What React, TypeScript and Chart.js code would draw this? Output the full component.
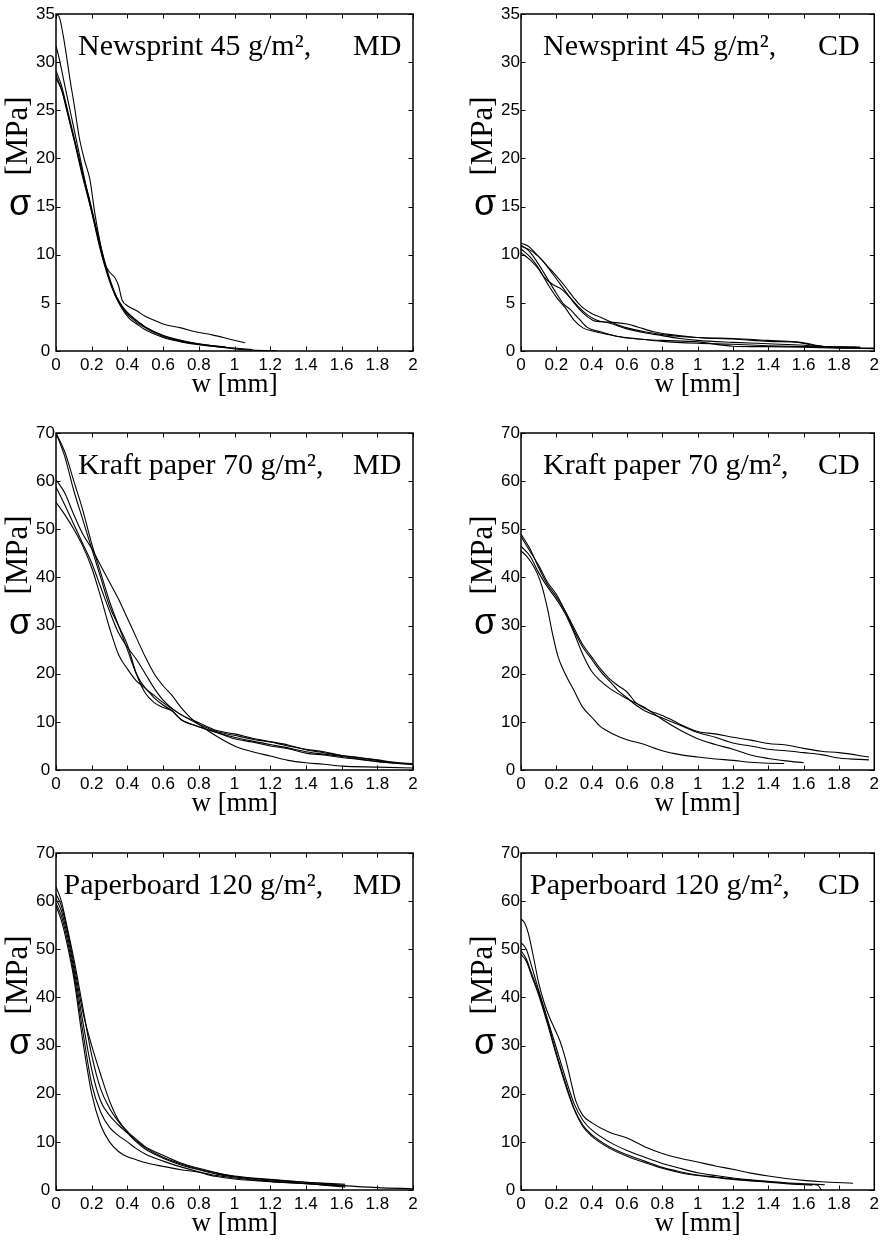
import React, { useEffect, useRef } from 'react';
import { Chart, registerables } from 'chart.js';

Chart.register(...registerables);

// ---------- tick values & labels ----------
const W_TICKS = [0, 0.2, 0.4, 0.6, 0.8, 1, 1.2, 1.4, 1.6, 1.8, 2];
const W_TICK_LABELS = ['0', '0.2', '0.4', '0.6', '0.8', '1', '1.2', '1.4', '1.6', '1.8', '2'];
const SIGMA_TICKS_NEWSPRINT = [0, 5, 10, 15, 20, 25, 30, 35];
const SIGMA_TICKS_OTHER = [0, 10, 20, 30, 40, 50, 60, 70];

// ---------- texts ----------
const X_TITLE = 'w [mm]';
const Y_SYMBOL = 'σ';
const Y_UNIT = '[MPa]';
const MATERIALS = ['Newsprint 45 g/m²,', 'Kraft paper 70 g/m²,', 'Paperboard 120 g/m²,'];
const DIRECTIONS = ['MD', 'CD'];

// ---------- curves: [w (mm), sigma (MPa)] ----------
const NEWSPRINT_MD = [
  [[0, 35], [0.02, 34.6], [0.04, 32.8], [0.06, 30.5], [0.08, 28], [0.1, 25.8], [0.13, 22.2], [0.16, 19.8], [0.19, 17.8], [0.22, 14], [0.25, 11], [0.28, 8.6], [0.32, 6.4], [0.36, 4.9], [0.4, 4.0], [0.45, 3.2], [0.5, 2.5], [0.6, 1.6], [0.7, 1.1], [0.8, 0.75], [0.9, 0.5], [0.95, 0.4]],
  [[0, 31.7], [0.02, 30.2], [0.05, 27.5], [0.09, 24], [0.13, 20.5], [0.17, 17], [0.21, 13.8], [0.24, 11.3], [0.27, 9.2], [0.3, 8.2], [0.33, 7.6], [0.35, 6.8], [0.37, 5.3], [0.4, 4.7], [0.45, 4.2], [0.5, 3.6], [0.55, 3.2], [0.6, 2.8], [0.7, 2.4], [0.78, 2.0], [0.88, 1.65], [0.98, 1.2], [1.06, 0.85]],
  [[0, 29.1], [0.03, 27.6], [0.07, 24.6], [0.11, 21.5], [0.15, 18.4], [0.19, 15.6], [0.22, 13.2], [0.26, 10.2], [0.3, 7.6], [0.34, 5.6], [0.38, 4.4], [0.42, 3.6], [0.5, 2.5], [0.6, 1.6], [0.7, 1.05], [0.8, 0.7], [0.9, 0.45], [1.0, 0.22], [1.1, 0.09], [1.24, 0.02]],
  [[0, 28.7], [0.04, 26.6], [0.08, 23.6], [0.12, 20.6], [0.17, 16.8], [0.21, 13.6], [0.25, 10.4], [0.29, 7.8], [0.33, 5.8], [0.37, 4.4], [0.41, 3.4], [0.46, 2.7], [0.5, 2.2], [0.6, 1.4], [0.7, 0.95], [0.8, 0.65], [0.9, 0.45], [1.0, 0.3], [1.1, 0.15]],
  [[0, 28.3], [0.03, 27.2], [0.06, 25], [0.1, 22], [0.15, 18], [0.2, 14.5], [0.24, 11.5], [0.28, 8.6], [0.32, 6.3], [0.36, 4.8], [0.4, 3.8], [0.45, 3.0], [0.5, 2.4], [0.6, 1.5], [0.7, 1.0], [0.8, 0.72], [0.95, 0.42]],
];

const NEWSPRINT_CD = [
  [[0, 11.2], [0.04, 10.9], [0.08, 10.2], [0.13, 9.2], [0.18, 8.0], [0.24, 6.5], [0.3, 5.0], [0.36, 3.8], [0.42, 3.1], [0.5, 3.0], [0.6, 2.8], [0.66, 2.5], [0.75, 2.0], [0.85, 1.7], [1.0, 1.4], [1.2, 1.3], [1.4, 1.1], [1.55, 0.95], [1.65, 0.6], [1.75, 0.45], [1.92, 0.4]],
  [[0, 10.9], [0.05, 10.5], [0.1, 9.8], [0.15, 8.8], [0.2, 7.8], [0.25, 6.7], [0.3, 5.5], [0.35, 4.5], [0.4, 3.9], [0.45, 3.5], [0.5, 3.1], [0.55, 2.7], [0.6, 2.4], [0.7, 2.0], [0.8, 1.7], [0.9, 1.5], [1.0, 1.4], [1.1, 1.3], [1.2, 1.25], [1.4, 1.0], [1.58, 0.9], [1.7, 0.5], [1.8, 0.4], [1.92, 0.35]],
  [[0, 10.6], [0.05, 9.8], [0.1, 8.6], [0.13, 7.7], [0.18, 6.9], [0.23, 6.4], [0.28, 5.5], [0.33, 4.5], [0.38, 3.7], [0.43, 3.2], [0.5, 2.9], [0.6, 2.3], [0.7, 1.9], [0.8, 1.6], [0.9, 1.3], [1.0, 1.1], [1.2, 0.9], [1.4, 0.75], [1.6, 0.6], [1.8, 0.35], [2.0, 0.3]],
  [[0, 10.2], [0.05, 9.5], [0.1, 8.5], [0.15, 7.0], [0.2, 5.6], [0.25, 4.5], [0.3, 3.2], [0.35, 2.4], [0.4, 2.1], [0.5, 1.7], [0.6, 1.35], [0.7, 1.2], [0.8, 1.1], [1.0, 0.95], [1.2, 0.5], [1.4, 0.45], [1.6, 0.4], [1.8, 0.3], [2.0, 0.25]],
  [[0, 11.0], [0.05, 10.3], [0.1, 9.0], [0.15, 7.5], [0.2, 6.0], [0.24, 4.9], [0.28, 4.3], [0.33, 3.3], [0.38, 2.4], [0.45, 2.0], [0.55, 1.5], [0.65, 1.3], [0.8, 1.0], [1.0, 0.8], [1.2, 0.7], [1.4, 0.55], [1.6, 0.45], [1.9, 0.4]],
];

const KRAFT_MD = [
  [[0, 70], [0.05, 66], [0.1, 60], [0.15, 54], [0.2, 47], [0.25, 41], [0.3, 35], [0.35, 30], [0.4, 25], [0.45, 20], [0.5, 17], [0.55, 15.5], [0.6, 14], [0.7, 11.5], [0.8, 9.5], [0.9, 8.0], [1.0, 7.2], [1.1, 6.4], [1.2, 5.8], [1.3, 5.0], [1.4, 4.3], [1.5, 3.8], [1.6, 3.0], [1.7, 2.5], [1.8, 2.0], [1.9, 1.5], [2.0, 1.2]],
  [[0, 70], [0.05, 65], [0.1, 58], [0.15, 52], [0.2, 46], [0.25, 40], [0.3, 34], [0.35, 30], [0.4, 26], [0.45, 20], [0.5, 16], [0.55, 14], [0.6, 13], [0.65, 12.3], [0.7, 10.5], [0.8, 9], [0.9, 7.8], [1.0, 6.8], [1.1, 6.0], [1.2, 5.3], [1.3, 4.6], [1.4, 3.8], [1.5, 3.3], [1.6, 2.8], [1.7, 2.3], [1.8, 1.8], [1.9, 1.4], [2.0, 1.1]],
  [[0, 60.3], [0.05, 57.5], [0.1, 53], [0.15, 49], [0.2, 46], [0.25, 42.5], [0.3, 39], [0.35, 35.5], [0.4, 31.5], [0.45, 27.5], [0.5, 23.5], [0.55, 20], [0.6, 17.5], [0.65, 15.5], [0.7, 13], [0.75, 11], [0.8, 9.5], [0.9, 7.0], [1.0, 5.0], [1.1, 3.8], [1.2, 2.9], [1.3, 2.0], [1.4, 1.5], [1.5, 1.2], [1.6, 0.8], [1.8, 0.6], [2.0, 0.4]],
  [[0, 58.8], [0.05, 55], [0.1, 51], [0.15, 47], [0.2, 43], [0.25, 38], [0.3, 33], [0.35, 28.5], [0.4, 25.5], [0.45, 23], [0.5, 20], [0.55, 17], [0.6, 14.5], [0.65, 12.8], [0.7, 11.5], [0.8, 9.8], [0.9, 8.2], [1.0, 7.5], [1.1, 6.6], [1.2, 5.9], [1.3, 5.2], [1.4, 4.2], [1.5, 3.6], [1.6, 3.0], [1.7, 2.6], [1.8, 2.1], [1.9, 1.6], [2.0, 1.3]],
  [[0, 55.6], [0.05, 53], [0.1, 50], [0.15, 46.5], [0.2, 42], [0.25, 36], [0.3, 29.5], [0.35, 24], [0.4, 21], [0.45, 18.5], [0.5, 17], [0.55, 15], [0.6, 13.5], [0.65, 12.3], [0.7, 10.5], [0.8, 9.0], [0.9, 7.8], [1.0, 6.5], [1.1, 5.8], [1.2, 5.0], [1.3, 4.4], [1.4, 3.5], [1.5, 3.1], [1.6, 2.6], [1.7, 2.2], [1.8, 1.7], [1.9, 1.4]],
];

const KRAFT_CD = [
  [[0, 45.5], [0.03, 44.5], [0.06, 43], [0.09, 41], [0.12, 38], [0.15, 33.5], [0.18, 28], [0.21, 23.5], [0.25, 20], [0.3, 16.5], [0.35, 13], [0.4, 11], [0.45, 9], [0.48, 8.3], [0.52, 7.5], [0.6, 6.3], [0.7, 5.3], [0.8, 4.0], [0.9, 3.2], [1.0, 2.7], [1.1, 2.3], [1.2, 2.0], [1.3, 1.6], [1.4, 1.4], [1.49, 1.35]],
  [[0, 46.5], [0.05, 44.5], [0.1, 41], [0.15, 38], [0.2, 35.5], [0.25, 32.5], [0.3, 28.5], [0.35, 24], [0.4, 20.5], [0.45, 18.5], [0.5, 17], [0.6, 14.8], [0.7, 13], [0.8, 10.5], [0.9, 8.3], [1.0, 6.5], [1.1, 5.3], [1.2, 4.3], [1.3, 3.1], [1.4, 2.4], [1.5, 1.9], [1.6, 1.5]],
  [[0, 49], [0.05, 46], [0.1, 42], [0.15, 38.5], [0.2, 36], [0.25, 33], [0.3, 29.5], [0.35, 26], [0.4, 23.5], [0.45, 21], [0.5, 19], [0.55, 17.5], [0.6, 16.2], [0.65, 14], [0.7, 12.8], [0.8, 11.3], [0.85, 10.5], [0.9, 9.5], [1.0, 8.0], [1.1, 7.5], [1.2, 6.8], [1.3, 6.2], [1.4, 5.5], [1.5, 5.2], [1.6, 4.5], [1.7, 3.9], [1.8, 3.6], [1.97, 2.7]],
  [[0, 48.5], [0.05, 45.5], [0.1, 42.5], [0.15, 39], [0.2, 36.5], [0.25, 33], [0.3, 29], [0.35, 25.5], [0.4, 23], [0.45, 20.5], [0.5, 18.5], [0.55, 16.5], [0.6, 15], [0.65, 13.5], [0.7, 12.3], [0.8, 10.8], [0.9, 9.3], [1.0, 7.8], [1.1, 6.8], [1.2, 5.6], [1.3, 5.0], [1.4, 4.3], [1.5, 4.0], [1.6, 3.6], [1.7, 3.2], [1.8, 2.5], [1.97, 2.1]],
];

const PAPERBOARD_MD = [
  [[0, 63], [0.03, 60], [0.06, 55], [0.1, 48], [0.15, 38], [0.2, 28], [0.25, 21], [0.3, 17], [0.35, 14.2], [0.4, 12], [0.45, 10.2], [0.5, 8.8], [0.6, 6.8], [0.7, 5.4], [0.8, 4.3], [0.9, 3.5], [1.0, 2.8], [1.2, 2.1], [1.4, 1.6], [1.62, 1.2]],
  [[0, 61.5], [0.03, 59], [0.06, 54.5], [0.1, 47], [0.15, 37], [0.2, 30], [0.25, 24], [0.3, 18.5], [0.35, 14.5], [0.4, 12.2], [0.45, 10.5], [0.5, 9.0], [0.6, 7.2], [0.7, 5.6], [0.8, 4.5], [0.9, 3.6], [1.0, 2.9], [1.2, 2.2], [1.4, 1.6], [1.62, 1.0]],
  [[0, 60.5], [0.03, 58], [0.06, 53.5], [0.1, 46], [0.15, 35], [0.2, 25], [0.25, 18.5], [0.3, 15.5], [0.35, 13.5], [0.4, 11.8], [0.45, 10], [0.5, 8.5], [0.6, 6.6], [0.7, 5.2], [0.8, 4.2], [0.9, 3.3], [1.0, 2.7], [1.2, 1.9], [1.4, 1.4], [1.6, 0.9], [1.8, 0.5], [2.0, 0.25]],
  [[0, 59.5], [0.03, 57], [0.06, 52.5], [0.1, 45], [0.15, 33], [0.2, 22], [0.25, 16.2], [0.3, 13], [0.35, 11.3], [0.4, 10], [0.45, 8.6], [0.5, 7.5], [0.6, 6.0], [0.7, 4.8], [0.8, 3.8], [0.9, 3.0], [1.0, 2.5], [1.2, 1.8], [1.4, 1.3], [1.62, 0.8]],
  [[0, 59], [0.03, 56], [0.06, 51.5], [0.1, 44], [0.15, 31], [0.2, 20], [0.25, 13.5], [0.3, 10], [0.35, 8], [0.4, 6.9], [0.45, 6.3], [0.5, 5.7], [0.6, 4.9], [0.7, 4.2], [0.8, 3.7], [0.85, 3.2], [0.9, 2.8], [1.0, 2.3], [1.2, 1.7], [1.4, 1.3], [1.62, 0.6]],
];

const PAPERBOARD_CD = [
  [[0, 56.3], [0.02, 55.5], [0.04, 53.5], [0.07, 48.5], [0.1, 43], [0.13, 39], [0.16, 36], [0.19, 33.5], [0.22, 31], [0.25, 27.5], [0.28, 23], [0.31, 18.5], [0.35, 15.5], [0.4, 14], [0.5, 12], [0.6, 10.8], [0.7, 9.0], [0.8, 7.6], [0.9, 6.6], [1.0, 5.8], [1.1, 5.0], [1.2, 4.3], [1.3, 3.5], [1.4, 2.9], [1.5, 2.4], [1.6, 2.0], [1.7, 1.7], [1.88, 1.4]],
  [[0, 51.4], [0.03, 50], [0.06, 46.5], [0.1, 41.5], [0.15, 35.5], [0.2, 29.5], [0.25, 23.5], [0.3, 18], [0.35, 14.5], [0.4, 12.5], [0.5, 10], [0.6, 8.2], [0.7, 6.8], [0.8, 5.5], [0.9, 4.5], [1.0, 3.6], [1.1, 3.0], [1.2, 2.5], [1.3, 2.1], [1.4, 1.8], [1.5, 1.5], [1.6, 1.3], [1.72, 1.1]],
  [[0, 49.7], [0.03, 48], [0.06, 45], [0.1, 41], [0.15, 35], [0.2, 28.5], [0.25, 22.5], [0.3, 17], [0.35, 13.5], [0.4, 11.5], [0.5, 9.0], [0.6, 7.3], [0.7, 6.0], [0.8, 4.7], [0.9, 3.8], [1.0, 3.1], [1.1, 2.7], [1.2, 2.3], [1.3, 2.0], [1.4, 1.7], [1.5, 1.4], [1.6, 1.2], [1.68, 1.0], [1.7, 0]],
  [[0, 49], [0.03, 47.5], [0.06, 44.5], [0.1, 40.5], [0.15, 34.5], [0.2, 28], [0.25, 22], [0.3, 16.8], [0.35, 13.2], [0.4, 11.2], [0.5, 8.7], [0.6, 7.0], [0.7, 5.7], [0.8, 4.5], [0.9, 3.6], [1.0, 3.0], [1.1, 2.6], [1.2, 2.2], [1.3, 1.9], [1.4, 1.6], [1.5, 1.3], [1.65, 1.0]],
];

// ---------- layout ----------
const COLS = [
  { canvasLeft: 0, width: 441, plotLeft: 56, plotRight: 413 },
  { canvasLeft: 441, width: 442, plotLeft: 521, plotRight: 877 },
];
const ROWS = [
  { canvasTop: 0, height: 415, plotTop: 14 },
  { canvasTop: 415, height: 420, plotTop: 433 },
  { canvasTop: 835, height: 411, plotTop: 853 },
];
const PLOT_H = 337;

const PANELS = [
  { curves: NEWSPRINT_MD, mat: 0, dir: 0, yTicks: SIGMA_TICKS_NEWSPRINT, yMax: 35, col: 0, row: 0, titleDx: 22 },
  { curves: NEWSPRINT_CD, mat: 0, dir: 1, yTicks: SIGMA_TICKS_NEWSPRINT, yMax: 35, col: 1, row: 0, titleDx: 22 },
  { curves: KRAFT_MD, mat: 1, dir: 0, yTicks: SIGMA_TICKS_OTHER, yMax: 70, col: 0, row: 1, titleDx: 22 },
  { curves: KRAFT_CD, mat: 1, dir: 1, yTicks: SIGMA_TICKS_OTHER, yMax: 70, col: 1, row: 1, titleDx: 22 },
  { curves: PAPERBOARD_MD, mat: 2, dir: 0, yTicks: SIGMA_TICKS_OTHER, yMax: 70, col: 0, row: 2, titleDx: 7.5 },
  { curves: PAPERBOARD_CD, mat: 2, dir: 1, yTicks: SIGMA_TICKS_OTHER, yMax: 70, col: 1, row: 2, titleDx: 9 },
];

const SERIF = "'Liberation Serif', 'Times New Roman', serif";
const SANS = "'Liberation Sans', Arial, Helvetica, sans-serif";

const framePlugin = {
  id: 'frame',
  afterDraw(chart: any, _args: any, opts: any) {
    const { ctx, chartArea: a } = chart;
    const xs = chart.scales.x;
    const ys = chart.scales.y;
    ctx.save();
    ctx.strokeStyle = '#000';
    ctx.fillStyle = '#000';
    // inward ticks on all four sides
    const TL = 4.5;
    ctx.lineWidth = 1;
    ctx.beginPath();
    W_TICKS.forEach((v) => {
      const p = Math.round(xs.getPixelForValue(v)) + 0.5;
      ctx.moveTo(p, a.bottom);
      ctx.lineTo(p, a.bottom - TL);
      ctx.moveTo(p, a.top);
      ctx.lineTo(p, a.top + TL);
    });
    (opts.yTicks as number[]).forEach((v) => {
      const p = Math.round(ys.getPixelForValue(v)) + 0.5;
      ctx.moveTo(a.left, p);
      ctx.lineTo(a.left + TL, p);
      ctx.moveTo(a.right, p);
      ctx.lineTo(a.right - TL, p);
    });
    ctx.stroke();
    // frame
    ctx.lineWidth = 1.5;
    ctx.strokeRect(a.left, a.top, a.right - a.left, a.bottom - a.top);

    // panel title inside the plot
    ctx.font = `30px ${SERIF}`;
    ctx.textAlign = 'left';
    ctx.textBaseline = 'alphabetic';
    ctx.fillText(opts.title, a.left + opts.titleDx, a.top + 40.5);
    ctx.fillText(opts.dir, a.left + 297, a.top + 40.5);

    // y-axis title: sigma + [MPa]
    ctx.font = `36px ${SANS}`;
    ctx.textAlign = 'center';
    ctx.fillText(Y_SYMBOL, a.left - 36, a.top + 201);
    ctx.save();
    ctx.translate(a.left - 29, a.top + 122);
    ctx.rotate(-Math.PI / 2);
    ctx.font = `31px ${SERIF}`;
    ctx.textAlign = 'center';
    ctx.fillText(Y_UNIT, 0, 0);
    ctx.restore();

    // x-axis title
    ctx.font = `27px ${SERIF}`;
    ctx.textAlign = 'center';
    ctx.fillText(X_TITLE, (a.left + a.right) / 2, a.bottom + 41);
    ctx.restore();
  },
};

function Panel({ p }: { p: (typeof PANELS)[number] }) {
  const ref = useRef<HTMLCanvasElement | null>(null);
  const c = COLS[p.col];
  const r = ROWS[p.row];
  useEffect(() => {
    if (!ref.current) return;
    const yAxisW = c.plotLeft - c.canvasLeft;
    const padRight = c.canvasLeft + c.width - c.plotRight;
    const padTop = r.plotTop - r.canvasTop;
    const xAxisH = r.canvasTop + r.height - (r.plotTop + PLOT_H);
    const tickFont = { family: SANS, size: 17 };
    const chart = new Chart(ref.current, {
      type: 'line',
      data: {
        datasets: p.curves.map((curve, i) => ({
          label: `${MATERIALS[p.mat]} ${DIRECTIONS[p.dir]} – specimen ${i + 1}`,
          data: curve.map(([x, y]) => ({ x, y })),
          borderColor: '#000',
          backgroundColor: '#000',
          borderWidth: 1.1,
          pointRadius: 0,
          fill: false,
          cubicInterpolationMode: 'monotone' as const,
        })),
      },
      options: {
        animation: false,
        responsive: false,
        devicePixelRatio: 1,
        layout: { padding: { left: 0, top: padTop, right: padRight, bottom: 0 } },
        plugins: {
          legend: { display: false },
          tooltip: { enabled: false },
          frame: {
            title: MATERIALS[p.mat],
            dir: DIRECTIONS[p.dir],
            titleDx: p.titleDx,
            yTicks: p.yTicks,
          },
        } as any,
        scales: {
          x: {
            type: 'linear',
            min: 0,
            max: 2,
            afterBuildTicks: (s: any) => {
              s.ticks = W_TICKS.map((v) => ({ value: v }));
            },
            afterFit: (s: any) => {
              s.height = xAxisH;
            },
            grid: { display: false, drawTicks: false },
            border: { display: false },
            ticks: {
              autoSkip: false,
              maxRotation: 0,
              padding: 4,
              color: '#000',
              font: tickFont,
              callback: (_v: any, i: number) => W_TICK_LABELS[i],
            },
          },
          y: {
            type: 'linear',
            min: 0,
            max: p.yMax,
            afterBuildTicks: (s: any) => {
              s.ticks = p.yTicks.map((v) => ({ value: v }));
            },
            afterFit: (s: any) => {
              s.width = yAxisW;
            },
            grid: { display: false, drawTicks: false },
            border: { display: false },
            ticks: {
              autoSkip: false,
              crossAlign: 'center',
              padding: 1,
              color: '#000',
              font: tickFont,
              callback: (v: any) => String(v),
            },
          },
        },
      },
      plugins: [framePlugin],
    });
    return () => chart.destroy();
  }, []);
  return (
    <canvas
      ref={ref}
      width={c.width}
      height={r.height}
      style={{ position: 'absolute', left: c.canvasLeft, top: r.canvasTop, width: c.width, height: r.height }}
    />
  );
}

export default function App() {
  return (
    <div style={{ position: 'absolute', left: 0, top: 0, width: 883, height: 1246, background: '#fff' }}>
      {PANELS.map((p, i) => (
        <Panel key={i} p={p} />
      ))}
    </div>
  );
}
